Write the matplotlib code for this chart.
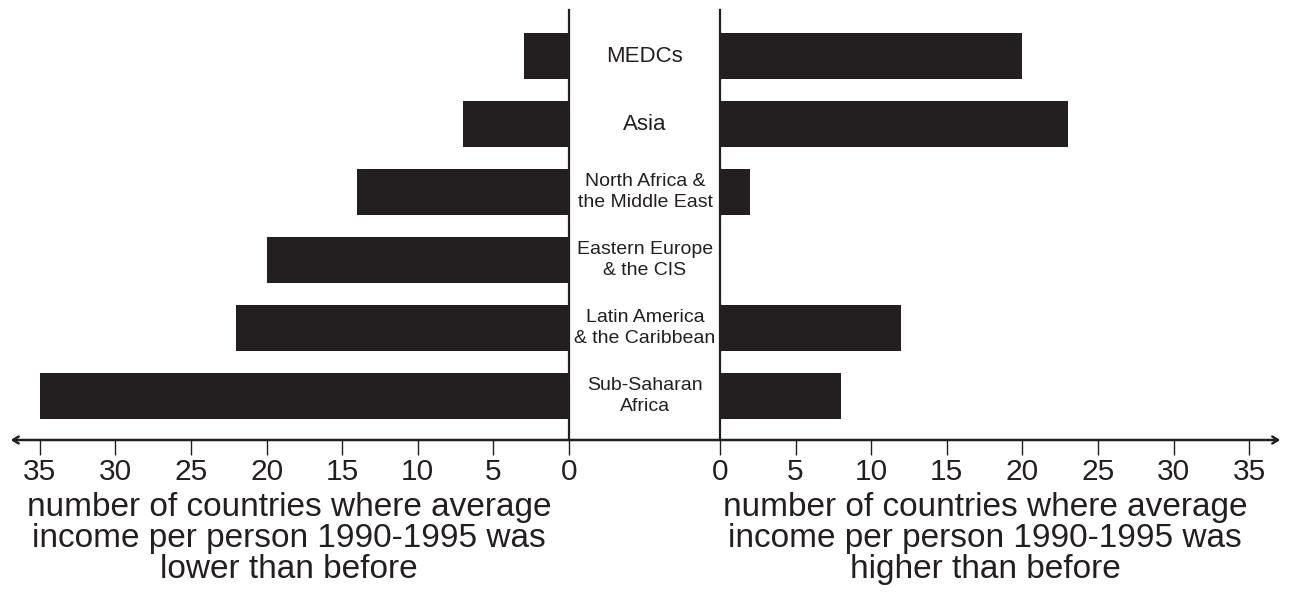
import matplotlib
matplotlib.use('Agg')
import matplotlib.pyplot as plt
from matplotlib.patches import FancyArrowPatch
from matplotlib.transforms import blended_transform_factory

plt.rcParams['font.family'] = ['Liberation Sans', 'DejaVu Sans']

regions = ['MEDCs', 'Asia', 'North Africa &\nthe Middle East', 'Eastern Europe\n& the CIS',
           'Latin America\n& the Caribbean', 'Sub-Saharan\nAfrica']
lower = [3, 7, 14, 20, 22, 35]
higher = [20, 23, 2, 0, 12, 8]
ticks = [0, 5, 10, 15, 20, 25, 30, 35]
left_label = 'number of countries where average\nincome per person 1990-1995 was\nlower than before'
right_label = 'number of countries where average\nincome per person 1990-1995 was\nhigher than before'

W, H = 1289, 596
fig = plt.figure(figsize=(W / 100, H / 100), dpi=100)
bar_col = '#231f20'

def px_box(x0, x1, y0, y1):
    return [x0 / W, 1 - y1 / H, (x1 - x0) / W, (y1 - y0) / H]

unit = 15.12
ax_l = fig.add_axes(px_box(8, 569, 10, 440))
ax_r = fig.add_axes(px_box(720, 1282, 10, 440))

ypos = list(range(len(regions)))
ax_l.barh(ypos, lower, height=0.68, color=bar_col)
ax_r.barh(ypos, higher, height=0.68, color=bar_col)

ax_l.set_xlim((569 - 8) / unit, 0)
ax_r.set_xlim(0, (1282 - 720) / unit)
for ax in (ax_l, ax_r):
    ax.set_ylim(5 + 44 / 68, -46 / 68)
    ax.set_yticks([])
    ax.set_xticks(ticks)
    ax.tick_params(axis='x', length=11, width=1.0, pad=2, labelsize=21.5, color=bar_col,
                   labelcolor=bar_col)
    ax.spines['top'].set_visible(False)
    ax.spines['bottom'].set_visible(False)
    ax.set_facecolor('none')

ax_l.spines['left'].set_visible(False)
ax_l.spines['right'].set_linewidth(1.6)
ax_l.spines['right'].set_color(bar_col)
ax_r.spines['right'].set_visible(False)
ax_r.spines['left'].set_linewidth(1.6)
ax_r.spines['left'].set_color(bar_col)

# centre labels
trans = blended_transform_factory(fig.transFigure, ax_r.transData)
for i, name in enumerate(regions):
    fs = 16 if '\n' not in name else 14
    ax_r.text(645 / W, i, name, transform=trans, ha='center', va='center',
              fontsize=fs, color=bar_col, linespacing=1.3)

# double-headed axis line
arrow = FancyArrowPatch((8 / W, 1 - 440 / H), (1283 / W, 1 - 440 / H),
                        transform=fig.transFigure, arrowstyle='<->,head_length=4,head_width=2.5',
                        lw=1.8, color=bar_col)
fig.add_artist(arrow)

fig.text(289 / W, 1 - 492 / H, left_label, ha='center', va='top', fontsize=24,
         color=bar_col, linespacing=0.99)
fig.text(985 / W, 1 - 492 / H, right_label, ha='center', va='top', fontsize=24,
         color=bar_col, linespacing=0.99)

fig.savefig('out.png', dpi=100)
